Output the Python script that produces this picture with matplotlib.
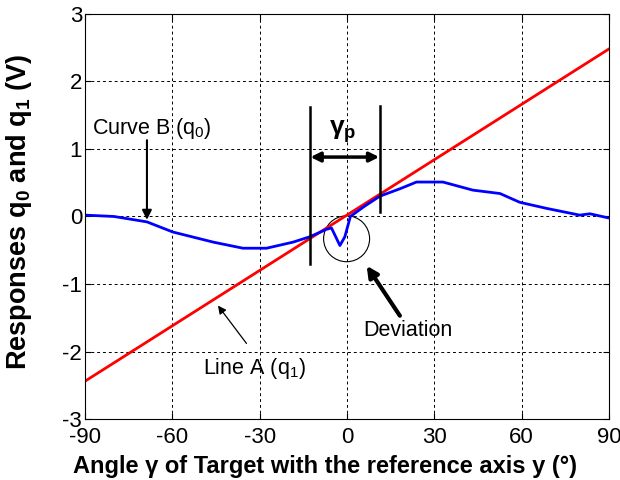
import matplotlib
matplotlib.use("Agg")
from matplotlib import pyplot as plt
from matplotlib.patches import Ellipse

plt.rcParams['font.family'] = ['Liberation Sans', 'DejaVu Sans']
plt.rcParams['mathtext.fontset'] = 'custom'
plt.rcParams['mathtext.rm'] = 'Liberation Sans'
plt.rcParams['mathtext.it'] = 'Liberation Sans'
plt.rcParams['mathtext.bf'] = 'Liberation Sans:bold'
plt.rcParams['axes.unicode_minus'] = False

# Line A (q1): near-linear response
line_a_angle = [-90, 90]
line_a_q1 = [-2.44, 2.48]

# Curve B (q0): sampled response vs angle
curve_b_angle = [-90, -80, -68.7, -59.8, -45.9, -35.7, -27.6, -18.5, -12.7, -7.0,
                 -5.3, -2.4, -0.7, 1.2, 6, 11.3, 18.2, 23.9, 33.0, 43.3, 52.6,
                 59.4, 68.6, 80.0, 83.5, 89.7]
curve_b_q0 = [0.02, 0.0, -0.08, -0.23, -0.38, -0.47, -0.47, -0.38, -0.30, -0.19,
              -0.17, -0.43, -0.30, 0.0, 0.15, 0.30, 0.41, 0.51, 0.51, 0.39, 0.34,
              0.21, 0.12, 0.02, 0.04, -0.02]

x_ticks = [-90, -60, -30, 0, 30, 60, 90]
y_ticks = [-3, -2, -1, 0, 1, 2, 3]

fig = plt.figure(figsize=(6.2, 4.8), dpi=100)
ax = fig.add_axes([0.137, 0.127, 0.845, 0.844])

ax.plot(line_a_angle, line_a_q1, color='red', lw=2)
ax.plot(curve_b_angle, curve_b_q0, color='blue', lw=2)

ax.set_xlim(-90, 90)
ax.set_ylim(-3, 3)
ax.set_xticks(x_ticks)
ax.set_yticks(y_ticks)
ax.grid(True, color='black', linestyle=(0, (3, 3)), lw=0.7)
ax.tick_params(direction='in', top=True, right=True, labelsize=16, length=4, pad=2)
ax.tick_params(axis='x', pad=6)
for s in ax.spines.values():
    s.set_linewidth(0.8)

ax.set_xlabel('Angle γ of Target with the reference axis y (°)',
              fontsize=17, fontweight='bold')
ax.xaxis.set_label_coords(0.458, -0.088)
ax.set_ylabel(r'Responses q$_\mathbf{0}$ and q$_\mathbf{1}$ (V)', fontsize=19.5,
              fontweight='bold')
ax.yaxis.set_label_coords(-0.097, 0.51)

# gamma_p span markers
ax.plot([-12.7, -12.7], [1.62, -0.70], color='black', lw=1.8)
ax.plot([11.3, 11.3], [1.64, 0.06], color='black', lw=1.8)
ax.annotate('', xy=(-12.5, 0.88), xytext=(11.1, 0.88),
            arrowprops=dict(arrowstyle='<|-|>', color='black', lw=2.5,
                            mutation_scale=14, shrinkA=0, shrinkB=0))
ax.text(-1.4, 1.25, r'$\mathbf{γ}_\mathbf{p}$', fontsize=19, ha='center', va='center')

# deviation circle
ax.add_patch(Ellipse((-0.1, -0.33), 15.8, 0.68, fill=False, color='black', lw=0.8))

ax.text(-87.5, 1.3, r'Curve B (q$_0$)', fontsize=15.5, va='center')
ax.annotate('', xy=(-68.7, -0.05), xytext=(-68.7, 1.13),
            arrowprops=dict(arrowstyle='-|>', color='black', lw=1.5,
                            mutation_scale=14, shrinkA=0, shrinkB=0))

ax.text(21, -1.69, 'Deviation', fontsize=15.5, ha='center', va='center')
ax.annotate('', xy=(6.8, -0.73), xytext=(18.2, -1.47),
            arrowprops=dict(arrowstyle='-|>', color='black', lw=3,
                            mutation_scale=16, shrinkA=0, shrinkB=0))

ax.text(-31.6, -2.25, r'Line A (q$_1$)', fontsize=15.5, ha='center', va='center')
ax.annotate('', xy=(-44.3, -1.32), xytext=(-34.5, -1.88),
            arrowprops=dict(arrowstyle='-|>', color='black', lw=0.9,
                            mutation_scale=12, shrinkA=0, shrinkB=0))

fig.savefig('out.png', dpi=100)
